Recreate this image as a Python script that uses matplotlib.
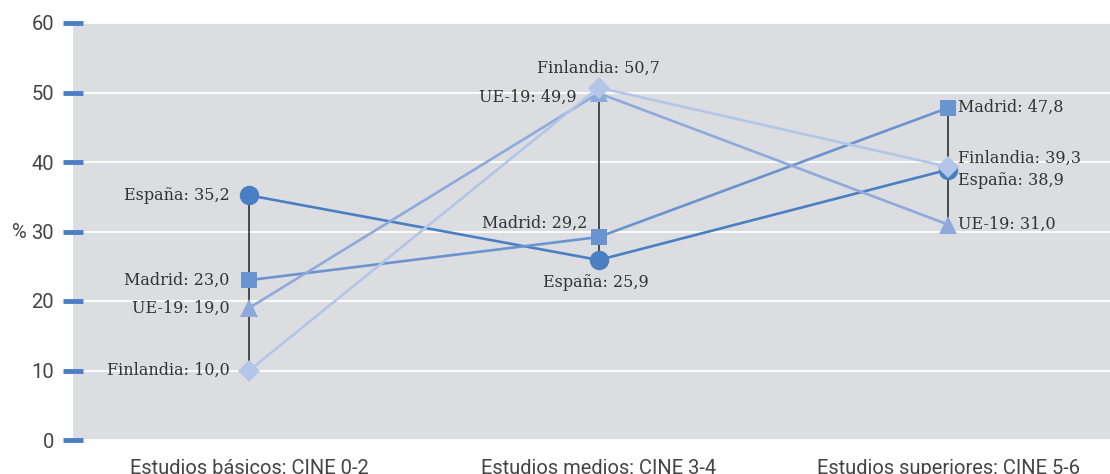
import matplotlib
matplotlib.use("Agg")
import matplotlib.pyplot as plt

categories = ["Estudios básicos: CINE 0-2", "Estudios medios: CINE 3-4", "Estudios superiores: CINE 5-6"]
series_names = ["España", "Madrid", "UE-19", "Finlandia"]
espana = [35.2, 25.9, 38.9]
madrid = [23.0, 29.2, 47.8]
ue19 = [19.0, 49.9, 31.0]
finlandia = [10.0, 50.7, 39.3]
yticks = [0, 10, 20, 30, 40, 50, 60]

values = [espana, madrid, ue19, finlandia]
colors = ["#4a7fc3", "#6a94cf", "#8eaadc", "#b4c6e7"]
markers = ["o", "s", "^", "D"]
msizes = [14, 12, 12.5, 11]

tick_font = "Roboto"
lab_font = "DejaVu Serif"

fig = plt.figure(figsize=(11.1, 4.74), dpi=100)
ax = fig.add_axes([73/1110, 1 - 440/474, 1 - 73/1110, (440 - 23)/474])
ax.set_facecolor("#dcdde0")
for s in ax.spines.values():
    s.set_visible(False)

ax.set_ylim(0, 60)
ax.set_xlim(-0.504, 2.463)
ax.set_yticks(yticks)
ax.set_yticklabels([str(v) for v in yticks], fontsize=14.5, color="#444444", fontfamily=tick_font)
ax.tick_params(axis="y", length=15, width=3.5, color="#4a7fc3", pad=6, direction="inout")
ax.grid(axis="y", color="white", linewidth=1.3)
ax.set_axisbelow(True)
ax.set_xticks(range(len(categories)))
ax.set_xticklabels(categories, fontsize=14.5, color="#444444", fontfamily=tick_font)
ax.tick_params(axis="x", length=0, pad=14)
ax.set_ylabel("%", rotation=0, fontsize=14.5, color="#444444", fontfamily=tick_font)
ax.yaxis.set_label_coords(-0.052, 0.475)

# hi-lo lines
for i in range(len(categories)):
    vals = [v[i] for v in values]
    ax.plot([i, i], [min(vals), max(vals)], color="#222222", linewidth=1.1, zorder=2)

for name, vals, c, m, ms in zip(series_names, values, colors, markers, msizes):
    ax.plot(range(len(categories)), vals, color=c, linewidth=1.9, marker=m,
            markersize=ms, markeredgewidth=0, zorder=3)

def fmt(v):
    return f"{v:.1f}".replace(".", ",")

# label offsets in points: (dx, dy, ha, va)
offsets = {
    0: {"España": (-14, 0, "right", "center"), "Madrid": (-14, 0, "right", "center"),
        "UE-19": (-14, 0, "right", "center"), "Finlandia": (-14, 0, "right", "center")},
    1: {"España": (-2, -16, "center", "center"), "Madrid": (-8, 10, "right", "center"),
        "UE-19": (-16, -3, "right", "center"), "Finlandia": (0, 14, "center", "center")},
    2: {"España": (7, -8, "left", "center"), "Madrid": (7, 0, "left", "center"),
        "UE-19": (7, 0, "left", "center"), "Finlandia": (7, 6, "left", "center")},
}
for name, vals in zip(series_names, values):
    for i, v in enumerate(vals):
        dx, dy, ha, va = offsets[i][name]
        ax.annotate(f"{name}: {fmt(v)}", (i, v), xytext=(dx, dy), textcoords="offset points",
                    ha=ha, va=va, fontsize=11.5, color="#333333", fontfamily=lab_font, zorder=5)

fig.savefig("out.png", dpi=100)
